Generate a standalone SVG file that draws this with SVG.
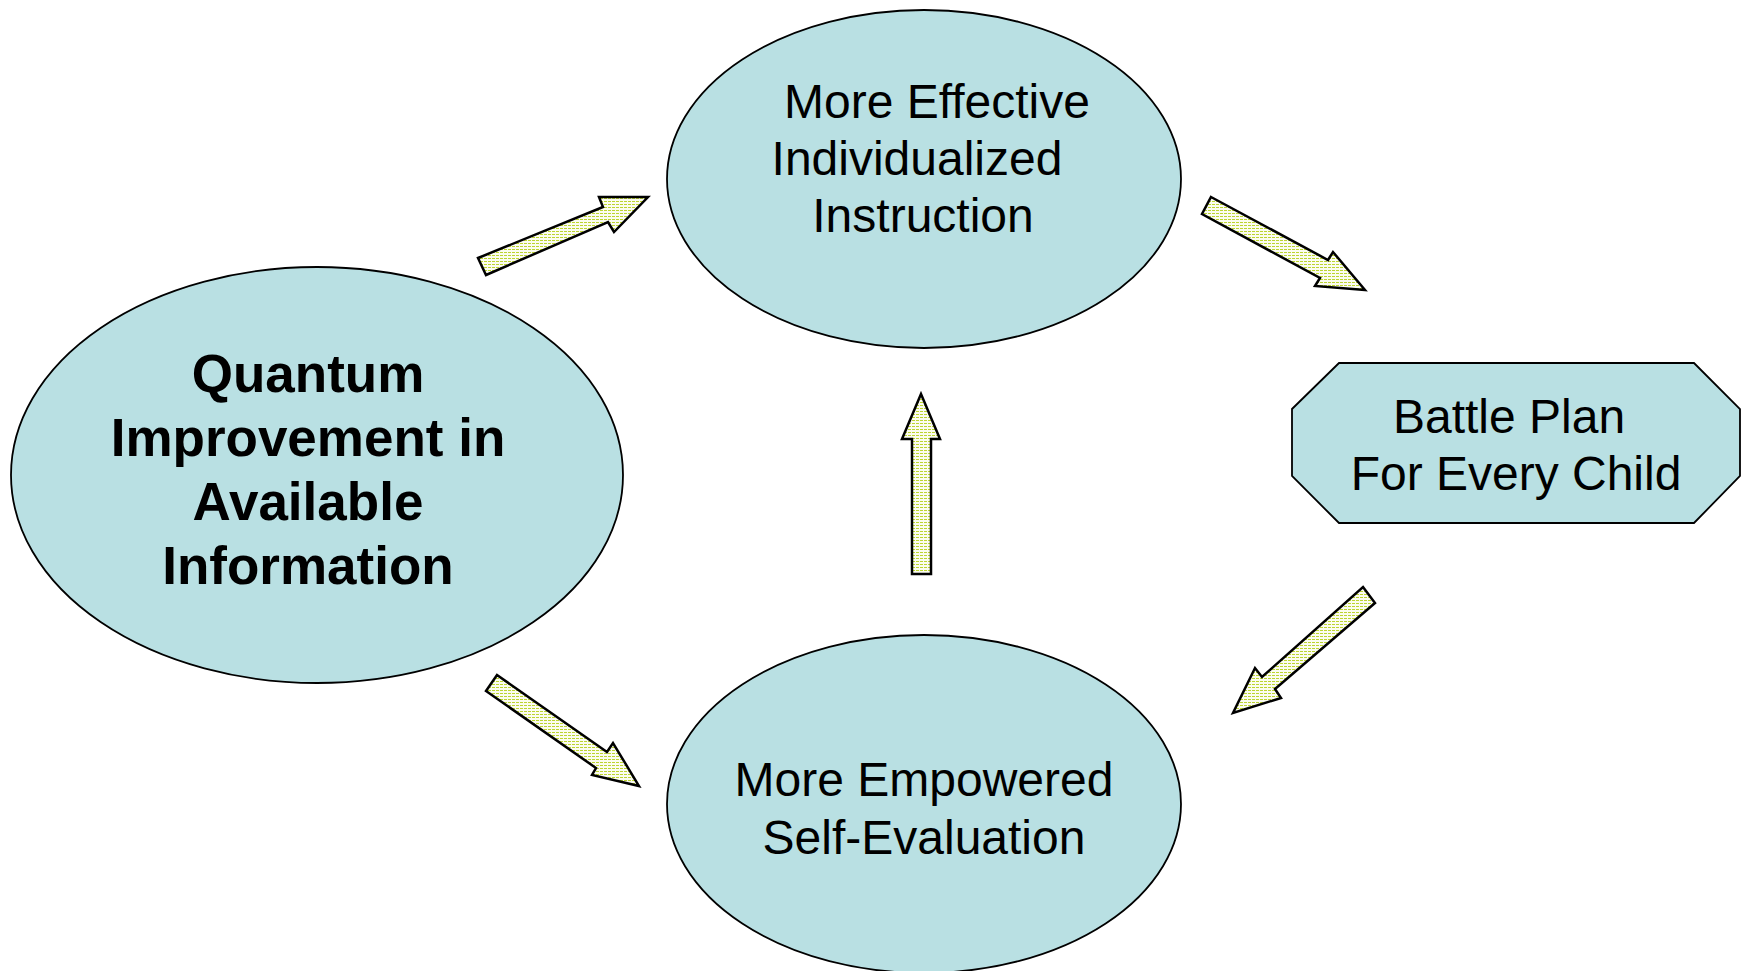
<svg xmlns="http://www.w3.org/2000/svg" width="1743" height="971" viewBox="0 0 1743 971">
<defs>
<pattern id="hatch" width="4" height="3" patternUnits="userSpaceOnUse">
<rect width="4" height="3" fill="#fbfcf0"/>
<rect x="0" y="0" width="3" height="1" fill="#bcd430"/>
</pattern>
</defs>
<style>
.node{fill:#b9e0e3;stroke:#000;stroke-width:1.8}
.arrow{fill:url(#hatch);stroke:#000;stroke-width:2.5;stroke-linejoin:miter}
.t{font-family:"Liberation Sans",Arial,sans-serif;font-size:48px;fill:#000;text-anchor:middle}
.b{font-family:"Liberation Sans",Arial,sans-serif;font-size:53px;font-weight:bold;fill:#000;text-anchor:middle}
</style>
<rect width="1743" height="971" fill="#fff"/>
<g id="connectors">
<polygon class="arrow" points="478,258 603,207 599,197 648,197 614,232 608,222 486,275"/>
<polygon class="arrow" points="1211,197 1328,260 1333,252 1365,290 1315,286 1320,278 1202,214"/>
<polygon class="arrow" points="921,394 940,439 931,439 931,574 912,574 912,439 902,439"/>
<polygon class="arrow" points="1363,587 1375,603 1275,689 1281,698 1233,713 1255,668 1262,677"/>
<polygon class="arrow" points="497,675 607,752 613,743 639,786 592,775 596,768 486,691"/>
</g>
<g id="node-instruction">
<ellipse class="node" cx="924" cy="179" rx="257" ry="169"/>
<text class="t" x="937" y="118">More Effective</text>
<text class="t" x="917" y="175">Individualized</text>
<text class="t" x="923" y="232">Instruction</text>
</g>
<g id="node-quantum">
<ellipse class="node" cx="317" cy="475" rx="306" ry="208"/>
<text class="b" x="308" y="392">Quantum</text>
<text class="b" x="308" y="456">Improvement in</text>
<text class="b" x="308" y="520">Available</text>
<text class="b" x="308" y="584">Information</text>
</g>
<g id="node-battleplan">
<polygon class="node" points="1339,363 1694,363 1740,409 1740,476 1694,523 1339,523 1292,476 1292,409"/>
<text class="t" x="1509" y="433">Battle Plan</text>
<text class="t" x="1516" y="490">For Every Child</text>
</g>
<g id="node-selfeval">
<ellipse class="node" cx="924" cy="804" rx="257" ry="169"/>
<text class="t" x="924" y="796">More Empowered</text>
<text class="t" x="924" y="854">Self-Evaluation</text>
</g>
</svg>
